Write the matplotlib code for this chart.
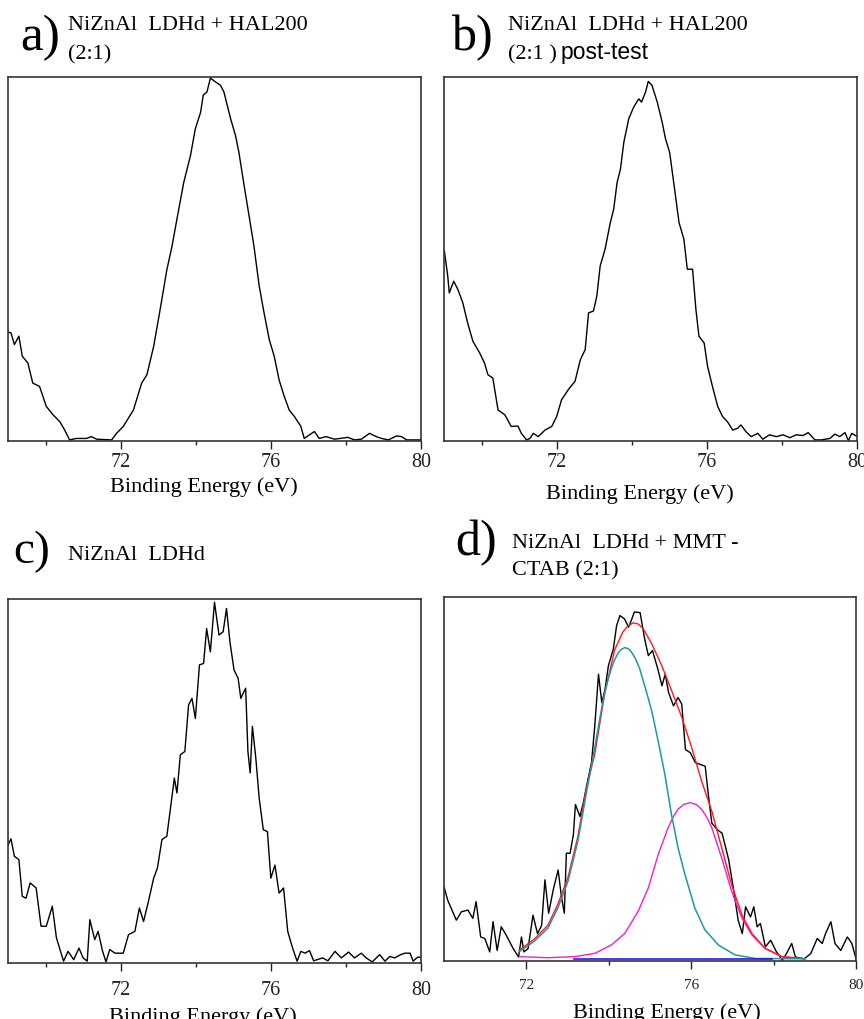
import matplotlib.pyplot as plt

a_x = [68.96, 69.08, 69.17, 69.29, 69.38, 69.53, 69.66, 69.84, 70.02, 70.20,
       70.38, 70.51, 70.64, 70.82, 71.09, 71.22, 71.36, 71.76, 71.89, 72.07,
       72.34, 72.56, 72.70, 72.88, 73.05, 73.23, 73.37, 73.50, 73.68, 73.86,
       73.99, 74.13, 74.20, 74.30, 74.39, 74.48, 74.66, 74.75, 74.93, 75.06,
       75.15, 75.29, 75.42, 75.55, 75.69, 75.82, 75.96, 76.09, 76.22, 76.36,
       76.49, 76.63, 76.80, 76.89, 77.03, 77.16, 77.29, 77.47, 77.70, 78.05,
       78.23, 78.41, 78.63, 78.81, 78.95, 79.13, 79.35, 79.48, 79.62, 79.84, 80.02]
a_y = [30.1, 29.7, 26.5, 28.8, 23.3, 21.4, 15.9, 15.0, 9.5, 7.2,
       5.3, 3.0, 0.3, 0.7, 0.7, 1.2, 0.5, 0.3, 2.1, 4.0,
       8.5, 15.9, 18.2, 26.0, 36.0, 47.0, 53.6, 61.0, 71.0, 78.4,
       85.8, 90.3, 95.0, 95.9, 99.7, 99.0, 97.7, 95.9, 88.5, 83.9,
       79.3, 70.1, 61.9, 53.6, 42.6, 35.2, 27.8, 23.3, 16.8, 12.2,
       8.5, 6.7, 4.0, 0.7, 1.7, 2.6, 0.7, 1.2, 0.5, 1.0,
       0.3, 0.5, 2.1, 1.2, 0.7, 0.3, 1.4, 1.2, 0.3, 0.3, 0.3]

b_x = [68.96, 69.01, 69.10, 69.14, 69.26, 69.37, 69.50, 69.63, 69.77, 69.95,
       70.08, 70.17, 70.30, 70.44, 70.62, 70.79, 70.97, 71.06, 71.20, 71.29,
       71.38, 71.51, 71.69, 71.87, 72.00, 72.13, 72.31, 72.49, 72.63, 72.76,
       72.85, 72.98, 73.07, 73.16, 73.29, 73.43, 73.52, 73.61, 73.70, 73.79,
       73.92, 74.05, 74.19, 74.26, 74.37, 74.44, 74.54, 74.68, 74.81, 74.90,
       75.01, 75.13, 75.26, 75.39, 75.48, 75.62, 75.71, 75.79, 75.93, 76.02,
       76.15, 76.29, 76.42, 76.55, 76.69, 76.82, 76.91, 77.04, 77.18, 77.36,
       77.49, 77.67, 77.85, 78.03, 78.21, 78.38, 78.56, 78.70, 78.88, 79.05,
       79.28, 79.41, 79.54, 79.68, 79.77, 79.86, 80.01]
b_y = [52.7, 52.2, 45.3, 40.7, 43.9, 41.6, 38.0, 32.4, 27.4, 24.2,
       21.4, 18.2, 17.3, 8.5, 7.2, 4.0, 4.1, 2.1, 0.3, 0.7,
       2.1, 1.2, 3.0, 4.0, 6.7, 11.3, 14.1, 16.4, 22.3, 25.1,
       35.2, 35.7, 39.8, 48.1, 52.7, 60.0, 63.7, 71.0, 74.7, 82.1,
       88.5, 91.7, 94.0, 93.1, 95.9, 98.8, 97.7, 93.1, 87.6, 83.0,
       79.3, 70.1, 60.0, 55.4, 47.2, 47.2, 36.1, 28.8, 26.9, 20.5,
       15.0, 9.5, 6.7, 5.3, 3.0, 3.5, 4.4, 2.6, 1.2, 2.1,
       0.5, 1.7, 1.2, 1.7, 0.9, 1.7, 1.5, 2.3, 0.3, 0.3,
       0.7, 1.9, 1.2, 2.3, 0.1, 2.1, 1.2]

c_x = [68.96, 69.08, 69.17, 69.29, 69.38, 69.48, 69.59, 69.75, 69.88, 70.02,
       70.18, 70.29, 70.48, 70.60, 70.75, 70.89, 71.00, 71.11, 71.18, 71.31,
       71.40, 71.52, 71.61, 71.71, 71.85, 72.07, 72.21, 72.38, 72.50, 72.61,
       72.74, 72.88, 72.98, 73.10, 73.23, 73.34, 73.43, 73.50, 73.59, 73.71,
       73.81, 73.90, 73.99, 74.10, 74.21, 74.29, 74.39, 74.50, 74.62, 74.73,
       74.82, 74.91, 75.02, 75.13, 75.20, 75.33, 75.39, 75.45, 75.51, 75.60,
       75.69, 75.80, 75.91, 76.00, 76.11, 76.22, 76.34, 76.45, 76.58, 76.70,
       76.80, 76.91, 77.03, 77.14, 77.38, 77.52, 77.71, 77.88, 78.07, 78.23,
       78.41, 78.54, 78.70, 78.90, 79.04, 79.17, 79.30, 79.46, 79.57, 79.71,
       79.79, 79.91, 80.04]
c_y = [31.6, 34.1, 29.3, 28.4, 18.3, 17.8, 22.0, 20.6, 10.1, 10.1,
       15.6, 6.9, 0.5, 3.2, 0.9, 4.1, 1.4, 0.5, 11.9, 6.4,
       8.7, 3.2, 0.3, 3.7, 2.7, 2.7, 7.8, 8.7, 15.1, 11.4,
       16.9, 23.3, 26.1, 33.9, 34.8, 43.5, 50.8, 46.7, 57.2, 58.1,
       70.9, 72.7, 67.2, 81.9, 82.3, 91.9, 85.5, 99.1, 90.1, 91.0,
       97.4, 88.3, 80.5, 78.2, 72.7, 75.5, 58.1, 52.2, 65.0, 56.3,
       45.3, 36.6, 36.1, 23.3, 26.9, 19.2, 20.6, 8.7, 4.1, 0.5,
       3.2, 2.7, 3.4, 0.6, 1.4, 0.6, 3.2, 1.4, 3.0, 1.4,
       2.7, 1.4, 0.3, 2.3, 0.5, 1.8, 1.4, 2.3, 2.7, 2.7,
       0.5, 1.6, 1.6]

d_x = [70.00, 70.09, 70.30, 70.42, 70.58, 70.70, 70.78, 70.89, 70.99, 71.11,
       71.19, 71.29, 71.39, 71.51, 71.68, 71.81, 71.88, 71.94, 72.04, 72.16,
       72.27, 72.37, 72.45, 72.54, 72.65, 72.77, 72.85, 72.92, 72.97, 73.06,
       73.14, 73.19, 73.30, 73.38, 73.46, 73.58, 73.66, 73.75, 73.83, 73.91,
       73.99, 74.11, 74.19, 74.27, 74.38, 74.48, 74.56, 74.62, 74.76, 74.87,
       74.96, 75.06, 75.19, 75.29, 75.37, 75.45, 75.57, 75.68, 75.77, 75.86,
       75.98, 76.10, 76.22, 76.34, 76.42, 76.50, 76.63, 76.75, 76.81, 76.91,
       77.03, 77.14, 77.24, 77.32, 77.44, 77.52, 77.60, 77.68, 77.80, 77.93,
       78.05, 78.21, 78.31, 78.44, 78.53, 78.74, 78.90, 79.06, 79.18, 79.26,
       79.39, 79.49, 79.63, 79.79, 79.90, 80.00]
d_y = [20.4, 16.7, 11.2, 13.5, 14.0, 11.7, 16.3, 6.6, 6.2, 2.5,
       10.8, 2.9, 9.4, 7.1, 3.4, 1.1, 6.6, 2.5, 3.4, 12.6,
       7.5, 9.8, 22.3, 13.1, 19.5, 25.0, 17.7, 13.1, 29.6, 29.6,
       34.7, 43.0, 39.7, 43.4, 48.0, 54.5, 64.6, 78.8, 71.0, 74.7,
       81.1, 85.7, 92.2, 94.9, 94.0, 91.7, 94.0, 95.9, 95.7, 88.5,
       83.9, 85.3, 80.2, 75.6, 78.8, 73.8, 70.1, 72.4, 70.6, 58.1,
       57.2, 54.5, 54.0, 53.5, 45.3, 37.9, 36.1, 35.1, 32.4, 27.8,
       19.5, 11.2, 7.5, 14.9, 12.1, 14.9, 9.4, 10.3, 3.9, 5.7,
       2.9, 0.2, 2.0, 4.8, 1.1, 0.6, 2.0, 6.2, 4.8, 7.5,
       10.8, 4.8, 2.9, 6.6, 4.8, 0.6]

# fitted components of panel d
peak1_x = [71.83, 72.19, 72.52, 72.76, 73.01, 73.25, 73.45, 73.66, 73.86, 73.96,
           74.06, 74.14, 74.22, 74.30, 74.39, 74.47, 74.55, 74.65, 74.75, 74.95,
           75.06, 75.16, 75.26, 75.36, 75.52, 75.68, 75.85, 76.09, 76.33, 76.66,
           77.06, 77.55, 78.77]
peak1_y = [2.6, 5.4, 9.0, 14.5, 21.9, 33.0, 45.8, 58.7, 71.6, 76.5,
           80.3, 82.7, 84.5, 85.6, 86.1, 85.8, 84.9, 83.0, 80.3, 72.5,
           67.8, 62.4, 57.0, 51.3, 40.3, 31.1, 23.7, 14.5, 8.6, 4.4,
           1.7, 0.7, 0.6]
peak2_x = [71.83, 72.52, 73.17, 73.66, 74.06, 74.39, 74.71, 74.96, 75.20, 75.44,
           75.56, 75.68, 75.82, 75.97, 76.12, 76.25, 76.38, 76.50, 76.74, 76.98,
           77.23, 77.47, 77.79, 78.20, 78.77]
peak2_y = [1.2, 0.9, 1.2, 2.1, 4.4, 7.6, 13.6, 20.1, 29.3, 36.6,
           39.5, 41.7, 43.0, 43.5, 43.0, 41.7, 39.5, 36.6, 28.3, 19.2,
           11.8, 7.2, 3.5, 1.2, 0.6]
env_x = [71.83, 72.19, 72.52, 72.76, 73.01, 73.25, 73.45, 73.66, 73.90, 74.14,
         74.34, 74.46, 74.59, 74.71, 74.83, 75.04, 75.28, 75.52, 75.77, 76.01,
         76.25, 76.50, 76.74, 76.98, 77.23, 77.47, 77.79, 78.20, 78.77]
env_y = [3.0, 6.0, 9.8, 15.5, 23.0, 34.2, 47.2, 56.9, 73.4, 85.4,
         90.4, 92.0, 92.9, 92.6, 91.4, 87.2, 81.3, 74.4, 67.0, 58.7,
         49.5, 41.2, 31.1, 21.0, 12.7, 7.6, 3.5, 1.2, 0.6]
bg_x = [73.15, 77.95]
bg_y = [0.5, 0.5]

W, H = 864, 1020
fig = plt.figure(figsize=(W / 100, H / 100), dpi=100)
SERIF = 'Liberation Serif'


def box(l, t, r, b):
    return [l / W, 1 - b / H, (r - l) / W, (b - t) / H]


def label(x, y, s, size=16, family=SERIF):
    fig.text(x / W, 1 - y / H, s, fontsize=size, family=family, va='baseline', ha='left')


def style(ax, xlim, minors, tsize, tpad, lab_xy):
    ax.set_xlim(*xlim)
    ax.set_ylim(0, 100)
    ax.set_yticks([])
    ax.set_xticks([72, 76, 80])
    ax.set_xticks(minors, minor=True)
    ax.tick_params(axis='x', which='major', direction='out', length=6, width=1,
                   pad=tpad, labelsize=tsize, colors='#222222')
    ax.tick_params(axis='x', which='minor', direction='out', length=3, width=1, colors='#222222')
    for lab in ax.get_xticklabels():
        lab.set_family(SERIF)
    for sp in ax.spines.values():
        sp.set_linewidth(1.2)
        sp.set_color('#333333')
    ax.set_xlabel('Binding Energy (eV)', fontsize=16, family=SERIF, va='top')
    ax.xaxis.set_label_coords(*lab_xy)


ax_a = fig.add_axes(box(8, 78, 421, 442))
ax_b = fig.add_axes(box(444, 78, 857, 442))
ax_c = fig.add_axes(box(8, 600, 421, 964))
ax_d = fig.add_axes(box(444, 598, 856, 962))

ax_a.plot(a_x, a_y, color='black', lw=1.0)
ax_b.plot(b_x, b_y, color='black', lw=1.0)
ax_c.plot(c_x, c_y, color='black', lw=1.0)
ax_d.plot(d_x, d_y, color='black', lw=1.0, zorder=2)
ax_d.plot(peak2_x, peak2_y, color='#f41cd8', lw=1.0, zorder=3)
ax_d.plot(env_x, env_y, color='#ff1a1a', lw=1.0, zorder=4)
ax_d.plot(peak1_x, peak1_y, color='#1f96a6', lw=1.1, zorder=5)
ax_d.plot(bg_x, bg_y, color='#1a1aee', lw=1.2, zorder=6)

style(ax_a, (69, 80), [70, 74, 78], 14.5, 2, (0.475, -0.098))
style(ax_b, (69, 80), [70, 74, 78], 14.5, 2, (0.475, -0.115))
style(ax_c, (69, 80), [70, 74, 78], 14.5, 6, (0.472, -0.118))
style(ax_d, (70, 80), [74, 78], 11, 6, (0.54, -0.112))

# panel captions
label(20, 50, 'a)', size=37)
label(68, 30, 'NiZnAl  LDHd + HAL200')
label(68, 59, '(2:1)')

label(452, 50, 'b)', size=36)
label(508, 30, 'NiZnAl  LDHd + HAL200')
label(508, 59, '(2:1 )')
label(561, 59, 'post-test', size=16.5, family='Liberation Sans')

label(13, 563, 'c)', size=34)
label(68, 560, 'NiZnAl  LDHd')

label(455, 555, 'd)', size=36)
label(512, 548, 'NiZnAl  LDHd + MMT -')
label(512, 575, 'CTAB (2:1)')

fig.savefig('out.png', dpi=100)
